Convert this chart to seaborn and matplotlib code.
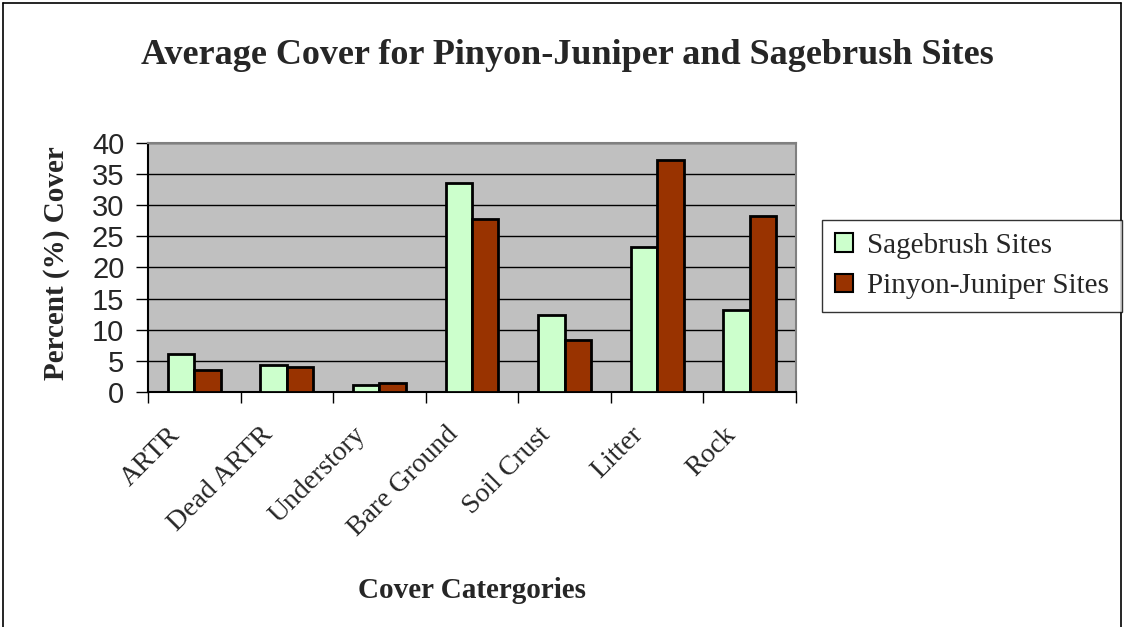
import pandas as pd
import matplotlib.pyplot as plt
import matplotlib.transforms as mtransforms
import seaborn as sns
from matplotlib.lines import Line2D
from matplotlib.patches import Patch

categories = ['ARTR', 'Dead ARTR', 'Understory', 'Bare Ground', 'Soil Crust', 'Litter', 'Rock']
sagebrush = [6.1, 4.4, 1.1, 33.6, 12.4, 23.2, 13.1]
pinyon_juniper = [3.6, 4.0, 1.5, 27.8, 8.3, 37.2, 28.2]
series_names = ['Sagebrush Sites', 'Pinyon-Juniper Sites']
colors = ['#CCFFCC', '#993300']

df = pd.DataFrame({
    'category': categories * 2,
    'cover': sagebrush + pinyon_juniper,
    'site': [series_names[0]] * len(categories) + [series_names[1]] * len(categories),
})

sns.set_style('white')
serif = ['Liberation Serif', 'DejaVu Serif']
sans = ['Liberation Sans', 'DejaVu Sans']

fig = plt.figure(figsize=(11.25, 6.27), dpi=100)
ax = fig.add_axes([148 / 1125, 1 - 392 / 627, (796 - 148) / 1125, (392 - 142.7) / 627])
ax.set_facecolor('#C0C0C0')

sns.barplot(data=df, x='category', y='cover', hue='site', order=categories,
            hue_order=series_names, palette=colors, width=0.57, gap=0,
            edgecolor='black', linewidth=2, saturation=1, ax=ax, legend=False, zorder=3)

ax.set_ylim(0, 40)
ax.set_xlim(-0.5, len(categories) - 0.5)
ax.set_yticks(range(0, 41, 5))
ax.yaxis.grid(True, color='black', linewidth=1)
ax.set_axisbelow(True)
for sp in ax.spines.values():
    sp.set_color('#808080')
    sp.set_linewidth(1.5)
ax.spines['left'].set_color('black')
ax.spines['bottom'].set_color('black')

ax.set_xticks(range(len(categories)))
ax.set_xticks([i - 0.5 for i in range(len(categories) + 1)], minor=True)
ax.tick_params(axis='x', which='major', length=0, pad=28)
ax.tick_params(axis='x', which='minor', length=8, width=1, color='black', direction='out', bottom=True)
ax.tick_params(axis='y', length=9, width=1, color='black', direction='out', left=True,
               labelsize=21, pad=8)
for lab in ax.get_yticklabels():
    lab.set_family(sans)

ax.set_xticklabels(categories, rotation=45, ha='right', va='center', rotation_mode='anchor',
                   fontsize=20, family=serif)
# nudge rotated labels left (after tick_params, which resets transforms)
shift = mtransforms.ScaledTranslation(-18 / 100, 0, fig.dpi_scale_trans)
for lab in ax.get_xticklabels():
    lab.set_transform(lab.get_transform() + shift)

ax.set_xlabel('')
ax.set_ylabel('')
fig.text(56 / 1125, 1 - 263 / 627, 'Percent (%) Cover', rotation=90, ha='center', va='center',
         fontsize=21, fontweight='bold', family=serif)
fig.text(472 / 1125, 1 - 590 / 627, 'Cover Catergories', ha='center', va='center',
         fontsize=21, fontweight='bold', family=serif)
fig.text(567 / 1125, 1 - 55 / 627, 'Average Cover for Pinyon-Juniper and Sagebrush Sites',
         ha='center', va='center', fontsize=26, fontweight='bold', family=serif)

handles = [Patch(facecolor=c, edgecolor='black', linewidth=1.5) for c in colors]
leg = fig.legend(handles, series_names, loc='center left',
                 bbox_to_anchor=(822 / 1125, 1 - 266 / 627), frameon=True, fancybox=False,
                 prop={'family': serif, 'size': 21}, handlelength=0.6, handleheight=0.6,
                 handletextpad=0.5, borderpad=0.45, labelspacing=0.5, borderaxespad=0)
leg.get_frame().set_edgecolor('black')
leg.get_frame().set_linewidth(1)

# outer chart frame
fig.add_artist(Line2D([3 / 1125, 3 / 1125], [0, 1 - 3 / 627], color='black', linewidth=1.2))
fig.add_artist(Line2D([3 / 1125, 1121 / 1125], [1 - 3 / 627, 1 - 3 / 627], color='black', linewidth=1.2))
fig.add_artist(Line2D([1121 / 1125, 1121 / 1125], [0, 1 - 3 / 627], color='black', linewidth=1.2))

fig.savefig('out.png', dpi=100)
